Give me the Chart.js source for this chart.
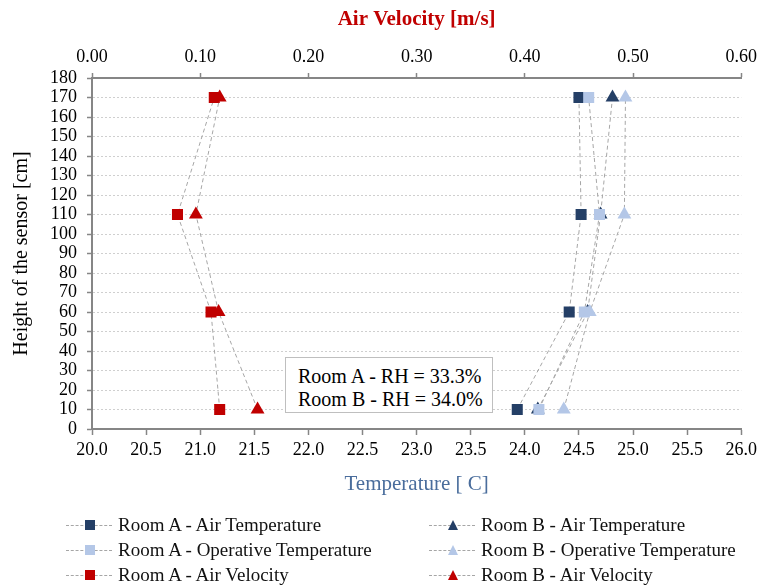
<!DOCTYPE html>
<html>
<head>
<meta charset="utf-8">
<script src="https://cdn.jsdelivr.net/npm/chart.js@4/dist/chart.umd.min.js"></script>
<style>
  html, body { margin: 0; padding: 0; background: #fff; }
  #wrap { position: relative; width: 762px; height: 585px; font-family: "Liberation Serif", "DejaVu Serif", serif; }
  #chart { position: absolute; left: 0; top: 0; }
  #rhbox {
    position: absolute; left: 285px; top: 357px; width: 208px; height: 56px;
    background: #fff; border: 1px solid #bfbfbf; box-sizing: border-box;
    font-size: 20px; line-height: 23px; padding: 7px 0 0 12px; color: #000;
  }
  #legend {
    position: absolute; left: 0; top: 513px; width: 762px;
    font-size: 19px; color: #111;
  }
  .item { position: absolute; height: 24px; line-height: 24px; white-space: nowrap; }
  .sample { position: absolute; left: 0; top: 12px; width: 46px; border-top: 1px dashed #a6a6a6; }
  .mk { position: absolute; }
  .sq { width: 10px; height: 10px; left: 19px; top: 7px; }
  .tri { width: 0; height: 0; left: 19px; top: 7px; border-left: 5px solid transparent; border-right: 5px solid transparent; border-bottom-width: 10px; border-bottom-style: solid; }
  .lbl { position: absolute; left: 52px; top: 0; }
</style>
</head>
<body>
<div id="wrap">
  <canvas id="chart" width="762" height="585"></canvas>
  <div id="rhbox">Room A - RH = 33.3%<br>Room B - RH = 34.0%</div>
  <div id="legend"></div>
</div>
<script>
/* ── Data ───────────────────────────────────────────────────────── */
const heights      = [10, 60, 110, 170];
const roomAAirTemp = [23.93, 24.41, 24.52, 24.50];
const roomBAirTemp = [24.12, 24.58, 24.70, 24.81];
const roomAOpTemp  = [24.13, 24.55, 24.69, 24.59];
const roomBOpTemp  = [24.36, 24.60, 24.92, 24.93];
const roomAVel     = [0.118, 0.110, 0.079, 0.113];
const roomBVel     = [0.153, 0.117, 0.096, 0.118];

const NAVY  = '#243f66';
const LIGHT = '#b4c7e7';
const RED   = '#c00000';
const AXIS  = '#868686';
const FONT  = '"Liberation Serif", "DejaVu Serif", serif';

// Excel series order (later ones drawn on top)
const series = [
  { label: 'Room A - Air Temperature',       vals: roomAAirTemp, color: NAVY,  shape: 'rect',     axis: 'x'  },
  { label: 'Room B - Air Temperature',       vals: roomBAirTemp, color: NAVY,  shape: 'triangle', axis: 'x'  },
  { label: 'Room A - Operative Temperature', vals: roomAOpTemp,  color: LIGHT, shape: 'rect',     axis: 'x'  },
  { label: 'Room B - Operative Temperature', vals: roomBOpTemp,  color: LIGHT, shape: 'triangle', axis: 'x'  },
  { label: 'Room A - Air Velocity',          vals: roomAVel,     color: RED,   shape: 'rect',     axis: 'x2' },
  { label: 'Room B - Air Velocity',          vals: roomBVel,     color: RED,   shape: 'triangle', axis: 'x2' },
];

const datasets = series.map((s, i) => ({
  label: s.label,
  data: s.vals.map((v, k) => ({ x: v, y: heights[k] })),
  xAxisID: s.axis,
  yAxisID: 'y',
  order: series.length - i,
  showLine: true,
  borderColor: '#a6a6a6',
  borderWidth: 1,
  borderDash: [4, 3],
  pointStyle: s.shape,
  pointRadius: s.shape === 'rect' ? 7.8 : 8,
  pointHoverRadius: s.shape === 'rect' ? 7.8 : 8,
  pointBackgroundColor: s.color,
  pointBorderColor: s.color,
  pointBorderWidth: 0,
}));

const tickFont = { family: FONT, size: 18 };

new Chart(document.getElementById('chart').getContext('2d'), {
  type: 'scatter',
  data: { datasets },
  options: {
    responsive: false,
    animation: false,
    layout: { padding: { left: 0, top: 0, right: 20, bottom: 86 } },
    plugins: { legend: { display: false }, tooltip: { enabled: false } },
    scales: {
      x: {
        type: 'linear', position: 'bottom', min: 20, max: 26,
        afterFit: s => { s.height = 70; },
        ticks: { stepSize: 0.5, color: '#000', font: tickFont, padding: 4, maxRotation: 0, autoSkip: false,
                 callback: v => v.toFixed(1) },
        grid: { drawOnChartArea: false, tickLength: 6, tickColor: AXIS, tickWidth: 1.5 },
        border: { color: AXIS, width: 2 },
        title: { display: true, text: 'Temperature [ C]', color: '#4a6d9c',
                 font: { family: FONT, size: 21 }, padding: { top: 0, bottom: 2 } }
      },
      x2: {
        type: 'linear', position: 'top', min: 0, max: 0.6,
        afterFit: s => { s.height = 78; },
        ticks: { stepSize: 0.1, color: '#000', font: tickFont, padding: 5, maxRotation: 0, autoSkip: false,
                 callback: v => v.toFixed(2) },
        grid: { drawOnChartArea: false, tickLength: 5, tickColor: AXIS, tickWidth: 1.5 },
        border: { color: AXIS, width: 2 },
        title: { display: true, text: 'Air Velocity [m/s]', color: RED,
                 font: { family: FONT, size: 21, weight: 'bold' }, padding: { top: 7, bottom: 0 } }
      },
      y: {
        type: 'linear', position: 'left', min: 0, max: 180,
        afterFit: s => { s.width = 92; },
        ticks: { stepSize: 10, color: '#000', font: tickFont, padding: 10, autoSkip: false },
        grid: { color: '#cfcfcf', lineWidth: 1, tickLength: 5, tickColor: AXIS, tickWidth: 1.5, tickBorderDash: [] },
        border: { color: AXIS, width: 2, dash: [2, 2] },
        title: { display: true, text: 'Height of the sensor [cm]', color: '#000',
                 font: { family: FONT, size: 20 }, padding: { top: 10, bottom: 0 } }
      }
    }
  }
});

/* ── Legend ─────────────────────────────────────────────────────── */
const legend = document.getElementById('legend');
series.forEach((s, i) => {
  const col = i % 2, row = Math.floor(i / 2);
  const el = document.createElement('div');
  el.className = 'item';
  el.style.left = (col ? 429 : 66) + 'px';
  el.style.top = (row * 25) + 'px';
  const mk = s.shape === 'rect'
    ? `<span class="mk sq" style="background:${s.color}"></span>`
    : `<span class="mk tri" style="border-bottom-color:${s.color}"></span>`;
  el.innerHTML = `<span class="sample"></span>${mk}<span class="lbl">${s.label}</span>`;
  legend.appendChild(el);
});
</script>
</body>
</html>
